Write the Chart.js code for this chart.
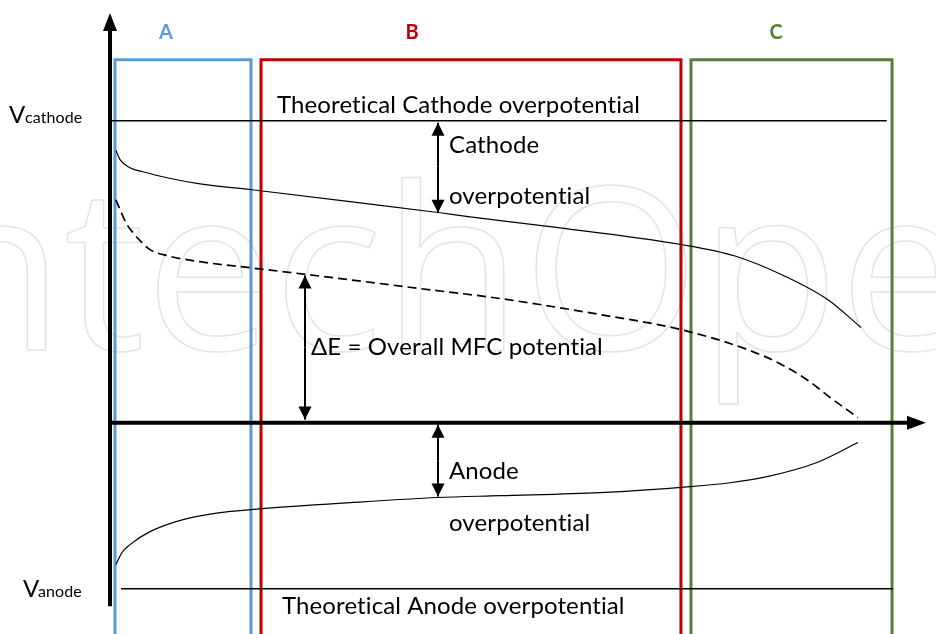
<!DOCTYPE html>
<html>
<head>
<meta charset="utf-8">
<script src="https://cdn.jsdelivr.net/npm/chart.js@4/dist/chart.umd.min.js"></script>
<style>
  html, body { margin: 0; padding: 0; background: #fff; }
  #wrap { width: 936px; height: 634px; }
</style>
</head>
<body>
<div id="wrap"><canvas id="polChart" width="936" height="634"></canvas></div>
<script>
// Polarisation curves (current in arbitrary units 0-100, potential in arbitrary units)
const cathodeCurrent = [0.61, 1.11, 2.33, 3.93, 6.88, 10.93, 17.08, 29.36, 40.42, 43.86, 53.93, 70.02, 76.66, 82.8, 88.08, 92.14];
const cathodePotential = [0.901, 0.871, 0.844, 0.831, 0.811, 0.791, 0.772, 0.732, 0.695, 0.682, 0.649, 0.590, 0.552, 0.485, 0.407, 0.315];

const cellCurrent = [0.61, 1.11, 1.97, 2.70, 3.81, 4.79, 6.88, 10.93, 17.08, 27.27, 37.96, 47.79, 60.07, 70.02, 77.89, 82.19, 85.5, 88.7, 91.77];
const cellPotential = [0.738, 0.705, 0.656, 0.629, 0.596, 0.573, 0.553, 0.533, 0.513, 0.480, 0.444, 0.411, 0.358, 0.308, 0.245, 0.195, 0.142, 0.076, 0.017];

const anodeCurrent = [0.61, 1.35, 2.33, 4.79, 8.85, 13.39, 17.2, 29.36, 40.17, 47.79, 60.07, 71.13, 76.04, 80.59, 86.73, 91.77];
const anodePotential = [-0.470, -0.430, -0.404, -0.361, -0.321, -0.298, -0.288, -0.265, -0.248, -0.242, -0.232, -0.212, -0.199, -0.179, -0.132, -0.066];

// theoretical electrode potentials
const vCathodeLine = { x: [0, 95.3], y: 1.0 };
const vAnodeLine = { x: [1.23, 96.07], y: -0.55 };

// operating regions: activation, ohmic, mass transfer
const regionLabels = ['A', 'B', 'C'];
const regionStart = [0.49, 18.43, 71.25];
const regionEnd = [17.2, 70.02, 95.95];
const regionLabelAt = [6.76, 36.98, 81.7];
const regionTop = 1.202;
const regionColors = ['#5b9bd5', '#c00000', '#538135'];

function toPoints(xs, ys) {
    return xs.map((x, i) => ({ x: x, y: ys[i] }));
}

const FONT = "Lato, 'Open Sans', sans-serif";

// small helper for single-headed arrows
function arrow(ctx, x, y1, y2, head) {
    ctx.beginPath();
    ctx.moveTo(x, y1);
    ctx.lineTo(x, y2);
    ctx.stroke();
    const dir = y2 > y1 ? 1 : -1;
    ctx.beginPath();
    ctx.moveTo(x, y2);
    ctx.lineTo(x - head / 2, y2 - dir * head);
    ctx.lineTo(x + head / 2, y2 - dir * head);
    ctx.closePath();
    ctx.fill();
}

const schemePlugin = {
    id: 'scheme',
    beforeDatasetsDraw(chart) {
        const ctx = chart.ctx;
        const xs = chart.scales.x, ys = chart.scales.y;

        // faint watermark
        ctx.save();
        ctx.strokeStyle = '#e4e4e4';
        ctx.lineWidth = 1.5;
        ctx.font = "228px 'Open Sans', sans-serif";
        ctx.textBaseline = 'alphabetic';
        const pre = ctx.measureText('In').width;
        ctx.strokeText('IntechOpen', 64 - pre, 350);
        ctx.restore();

        // region boxes
        ctx.save();
        ctx.lineWidth = 3;
        regionLabels.forEach((lab, i) => {
            const l = xs.getPixelForValue(regionStart[i]);
            const r = xs.getPixelForValue(regionEnd[i]);
            const t = ys.getPixelForValue(regionTop);
            const b = chart.height + 5;
            ctx.strokeStyle = regionColors[i];
            ctx.beginPath();
            ctx.moveTo(l, b);
            ctx.lineTo(l, t);
            ctx.lineTo(r, t);
            ctx.lineTo(r, b);
            ctx.stroke();
            ctx.fillStyle = regionColors[i];
            ctx.font = 'bold 20px ' + FONT;
            ctx.textAlign = 'center';
            ctx.textBaseline = 'alphabetic';
            ctx.fillText(lab, xs.getPixelForValue(regionLabelAt[i]), 39);
        });
        ctx.restore();
    },
    afterDatasetsDraw(chart) {
        const ctx = chart.ctx;
        const xs = chart.scales.x, ys = chart.scales.y;
        const px = v => xs.getPixelForValue(v);
        const py = v => ys.getPixelForValue(v);

        ctx.save();
        ctx.fillStyle = '#000';
        ctx.strokeStyle = '#000';

        // axes with arrow heads
        ctx.lineWidth = 4;
        const x0 = px(0) - 1, y0 = py(0);
        ctx.beginPath();
        ctx.moveTo(x0, py(-0.608));
        ctx.lineTo(x0, 28);
        ctx.stroke();
        ctx.beginPath();
        ctx.moveTo(x0, 13);
        ctx.lineTo(x0 - 7, 31);
        ctx.lineTo(x0 + 7, 31);
        ctx.closePath();
        ctx.fill();

        ctx.beginPath();
        ctx.moveTo(x0, y0);
        ctx.lineTo(912, y0);
        ctx.stroke();
        ctx.beginPath();
        ctx.moveTo(926, y0);
        ctx.lineTo(907, y0 - 7);
        ctx.lineTo(907, y0 + 7);
        ctx.closePath();
        ctx.fill();

        // overpotential arrows
        ctx.lineWidth = 2;
        const xc = px(40.17);
        const mid1 = (py(1.0) + py(0.695)) / 2;
        arrow(ctx, xc, mid1, py(1.0) + 2, 13);
        arrow(ctx, xc, mid1, py(0.695), 13);
        const xe = px(23.83);
        const mid2 = (py(0.487) + py(0.01)) / 2;
        arrow(ctx, xe, mid2, py(0.487), 13);
        arrow(ctx, xe, mid2, py(0.01), 13);
        const mid3 = (py(-0.007) + py(-0.245)) / 2;
        arrow(ctx, xc, mid3, py(-0.007), 13);
        arrow(ctx, xc, mid3, py(-0.245), 13);

        // labels
        ctx.textBaseline = 'alphabetic';
        ctx.textAlign = 'left';
        ctx.letterSpacing = '0.1px';
        ctx.font = '24px ' + FONT;
        ctx.fillText('Theoretical Cathode overpotential', 277, 113);
        ctx.fillText('Cathode', 449, 153);
        ctx.fillText('overpotential', 449, 204);
        ctx.fillText('\u0394E = Overall MFC potential', 311, 355);
        ctx.fillText('Anode', 449, 479);
        ctx.fillText('overpotential', 449, 531);
        ctx.fillText('Theoretical Anode overpotential', 282, 614);

        ctx.fillText('V', 9, 123);
        ctx.fillText('V', 23, 597);
        ctx.font = '16px ' + FONT;
        ctx.fillText('cathode', 25, 123);
        ctx.fillText('anode', 38, 597);
        ctx.restore();
    }
};

const thinLine = { showLine: true, pointRadius: 0, borderColor: '#000', backgroundColor: '#000', fill: false };

new Chart(document.getElementById('polChart'), {
    type: 'scatter',
    data: {
        datasets: [
            Object.assign({ label: 'Cathode', data: toPoints(cathodeCurrent, cathodePotential), borderWidth: 1.2, cubicInterpolationMode: 'monotone' }, thinLine),
            Object.assign({ label: 'Overall MFC', data: toPoints(cellCurrent, cellPotential), borderWidth: 1.7, borderDash: [9, 5], cubicInterpolationMode: 'monotone' }, thinLine),
            Object.assign({ label: 'Anode', data: toPoints(anodeCurrent, anodePotential), borderWidth: 1.2, cubicInterpolationMode: 'monotone' }, thinLine),
            Object.assign({ label: 'V cathode', data: vCathodeLine.x.map(x => ({ x: x, y: vCathodeLine.y })), borderWidth: 1.5 }, thinLine),
            Object.assign({ label: 'V anode', data: vAnodeLine.x.map(x => ({ x: x, y: vAnodeLine.y })), borderWidth: 1.5 }, thinLine)
        ]
    },
    options: {
        responsive: false,
        animation: false,
        layout: { padding: { left: 111, right: 11, top: 15, bottom: 0 } },
        scales: {
            x: { type: 'linear', min: 0, max: 100, display: false },
            y: { type: 'linear', min: -0.7, max: 1.35, display: false }
        },
        plugins: {
            legend: { display: false },
            tooltip: { enabled: false }
        }
    },
    plugins: [schemePlugin]
});
</script>
</body>
</html>
